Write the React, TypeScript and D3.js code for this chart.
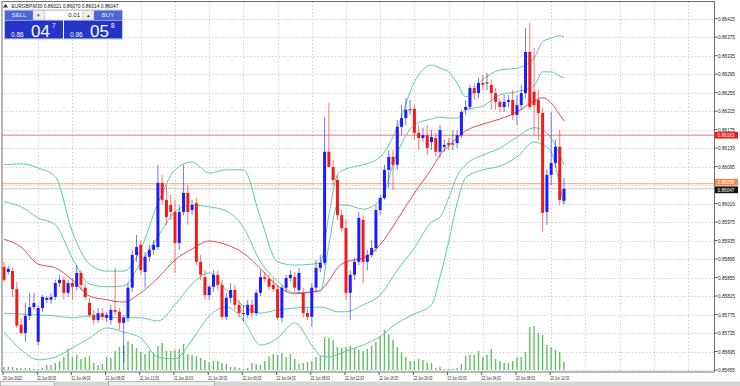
import React from 'react';
import * as d3 from 'd3';

// EURGBP M30, 20 Jun 2022 20:00 .. 23 Jun 2022 13:30 (132 bars)
const opens = [
  0.85878,0.85867,0.85869,0.85830,0.85753,0.85735,0.85772,0.85791,0.85716,0.85789,
  0.85807,0.85807,0.85813,0.85843,0.85850,0.85822,0.85843,0.85835,0.85865,0.85833,
  0.85800,0.85774,0.85763,0.85778,0.85768,0.85763,0.85785,0.85781,0.85757,0.85768,
  0.85833,0.85904,0.85926,0.85867,0.85900,0.85915,0.85921,0.86060,0.86023,0.86012,
  0.85997,0.85930,0.85997,0.86038,0.86001,0.86016,0.85889,0.85856,0.85817,0.85835,
  0.85861,0.85839,0.85770,0.85811,0.85828,0.85796,0.85777,0.85774,0.85796,0.85778,
  0.85822,0.85856,0.85852,0.85839,0.85830,0.85768,0.85833,0.85854,0.85856,0.85828,
  0.85822,0.85778,0.85770,0.85833,0.85876,0.85887,0.86127,0.86094,0.86066,0.85990,
  0.85962,0.85822,0.85861,0.85889,0.85980,0.85889,0.85904,0.85919,0.86001,0.86027,
  0.86088,0.86116,0.86099,0.86181,0.86200,0.86218,0.86220,0.86168,0.86157,0.86163,
  0.86148,0.86157,0.86127,0.86138,0.86146,0.86144,0.86146,0.86163,0.86218,0.86224,
  0.86265,0.86254,0.86276,0.86276,0.86272,0.86254,0.86235,0.86224,0.86235,0.86239,
  0.86207,0.86228,0.86254,0.86343,0.86257,0.86239,0.86211,0.85997,0.86077,0.86103,
  0.86138,0.86021,
];
const highs = [
  0.85889,0.85880,0.85876,0.85846,0.85768,0.85800,0.85822,0.85822,0.85796,0.85817,
  0.85815,0.85822,0.85850,0.85861,0.85856,0.85850,0.85854,0.85882,0.85871,0.85843,
  0.85811,0.85785,0.85789,0.85789,0.85781,0.85796,0.85876,0.85789,0.85774,0.85843,
  0.85915,0.85947,0.85936,0.85910,0.85926,0.85936,0.86099,0.86077,0.86055,0.86034,
  0.86023,0.86012,0.86099,0.86055,0.86023,0.86027,0.85904,0.85871,0.85839,0.85871,
  0.85871,0.85850,0.85822,0.85843,0.85839,0.85807,0.85796,0.85807,0.85807,0.85828,
  0.85871,0.85867,0.85861,0.85854,0.85839,0.85839,0.85861,0.85871,0.85867,0.85876,
  0.85833,0.85789,0.85843,0.85893,0.85904,0.86202,0.86233,0.86109,0.86077,0.86001,
  0.85980,0.85871,0.85898,0.85997,0.85990,0.85915,0.85936,0.86012,0.86034,0.86099,
  0.86131,0.86131,0.86196,0.86228,0.86243,0.86239,0.86228,0.86185,0.86179,0.86185,
  0.86174,0.86168,0.86185,0.86153,0.86157,0.86174,0.86174,0.86218,0.86239,0.86272,
  0.86276,0.86287,0.86293,0.86298,0.86283,0.86265,0.86243,0.86250,0.86250,0.86261,
  0.86250,0.86272,0.86395,0.86406,0.86352,0.86261,0.86222,0.86088,0.86213,0.86153,
  0.86174,0.86070,
];
const lows = [
  0.85846,0.85861,0.85813,0.85746,0.85731,0.85716,0.85763,0.85785,0.85709,0.85781,
  0.85800,0.85798,0.85807,0.85835,0.85807,0.85813,0.85807,0.85828,0.85828,0.85807,
  0.85768,0.85753,0.85757,0.85763,0.85759,0.85753,0.85774,0.85742,0.85672,0.85759,
  0.85824,0.85889,0.85861,0.85833,0.85889,0.85904,0.85915,0.86012,0.85969,0.85980,
  0.85865,0.85915,0.85990,0.85969,0.85990,0.85882,0.85850,0.85807,0.85807,0.85824,
  0.85828,0.85763,0.85763,0.85800,0.85785,0.85768,0.85759,0.85768,0.85768,0.85772,
  0.85815,0.85846,0.85828,0.85824,0.85763,0.85759,0.85824,0.85846,0.85824,0.85822,
  0.85768,0.85763,0.85748,0.85824,0.85867,0.85882,0.86109,0.86055,0.85980,0.85954,
  0.85807,0.85763,0.85850,0.85882,0.85843,0.85871,0.85898,0.85910,0.85990,0.86023,
  0.86049,0.86045,0.86088,0.86163,0.86185,0.86207,0.86153,0.86131,0.86148,0.86120,
  0.86131,0.86116,0.86114,0.86127,0.86131,0.86131,0.86135,0.86157,0.86207,0.86218,
  0.86239,0.86243,0.86261,0.86261,0.86218,0.86218,0.86213,0.86213,0.86224,0.86196,
  0.86185,0.86218,0.86243,0.86218,0.86163,0.86153,0.85954,0.85969,0.86055,0.86092,
  0.86012,0.86014,
];
const closes = [
  0.85850,0.85874,0.85830,0.85751,0.85735,0.85772,0.85791,0.85800,0.85789,0.85813,
  0.85811,0.85813,0.85843,0.85850,0.85822,0.85843,0.85835,0.85865,0.85839,0.85813,
  0.85774,0.85763,0.85778,0.85770,0.85774,0.85785,0.85781,0.85757,0.85768,0.85833,
  0.85904,0.85921,0.85871,0.85900,0.85915,0.85926,0.86060,0.86023,0.85986,0.85997,
  0.85930,0.85997,0.86038,0.85997,0.86012,0.85889,0.85861,0.85817,0.85835,0.85861,
  0.85839,0.85770,0.85811,0.85828,0.85796,0.85778,0.85777,0.85796,0.85778,0.85822,
  0.85856,0.85852,0.85835,0.85830,0.85768,0.85833,0.85854,0.85861,0.85833,0.85865,
  0.85778,0.85770,0.85833,0.85876,0.85887,0.86127,0.86094,0.86066,0.85990,0.85962,
  0.85822,0.85861,0.85889,0.85984,0.85889,0.85904,0.85919,0.86001,0.86027,0.86088,
  0.86116,0.86099,0.86181,0.86200,0.86218,0.86218,0.86168,0.86157,0.86163,0.86135,
  0.86159,0.86127,0.86174,0.86142,0.86142,0.86144,0.86163,0.86213,0.86224,0.86265,
  0.86254,0.86276,0.86272,0.86276,0.86254,0.86235,0.86224,0.86235,0.86239,0.86207,
  0.86228,0.86254,0.86343,0.86224,0.86228,0.86211,0.85995,0.86077,0.86103,0.86138,
  0.86023,0.86047,
];
const volumes = [
  120,120,120,80,80,80,80,40,40,80,
  200,200,280,360,520,840,520,600,440,520,
  560,280,200,240,520,480,760,920,1000,1160,
  1040,880,720,640,760,680,960,1080,760,760,
  800,840,1040,640,600,560,480,400,320,360,
  360,280,240,120,120,80,40,80,280,240,
  200,360,560,640,600,680,520,640,440,240,
  280,320,360,520,560,1320,1280,1200,920,880,
  920,960,880,800,760,840,960,1120,1360,1600,
  1440,1200,920,720,520,360,360,440,400,280,
  280,80,120,40,40,40,80,240,560,600,
  600,760,520,600,840,440,360,280,280,360,
  520,520,720,1720,1760,1480,1400,1000,920,800,
  720,320,
];

// indicator lines, read at these bar indices
const bandIdx = [0,4,8,12,16,20,24,28,32,36,40,44,48,52,56,60,64,68,72,74,76,78,80,84,88,92,96,100,102,104,106,108,112,116,120,124,126,128,130,131];
const bandUpperOuter = [0.86099,0.86101,0.86092,0.86073,0.85954,0.85884,0.85869,0.85869,0.85917,0.86016,0.86088,0.86105,0.86081,0.86088,0.86088,0.85984,0.85889,0.85882,0.85884,0.85887,0.85990,0.86077,0.86090,0.86099,0.86116,0.86179,0.86278,0.86315,0.86308,0.86300,0.86276,0.86246,0.86283,0.86304,0.86308,0.86330,0.86365,0.86373,0.86378,0.86375];
const bandUpperInner = [0.86019,0.86008,0.85984,0.85969,0.85897,0.85841,0.85835,0.85837,0.85887,0.85943,0.85997,0.86012,0.86008,0.85999,0.85964,0.85889,0.85848,0.85822,0.85824,0.85824,0.85926,0.86012,0.86012,0.86003,0.86023,0.86125,0.86185,0.86198,0.86202,0.86200,0.86200,0.86218,0.86226,0.86250,0.86257,0.86270,0.86300,0.86300,0.86291,0.86287];
const bandMiddle = [0.85938,0.85921,0.85884,0.85876,0.85850,0.85815,0.85807,0.85802,0.85822,0.85854,0.85893,0.85917,0.85934,0.85926,0.85908,0.85874,0.85837,0.85820,0.85824,0.85828,0.85848,0.85876,0.85889,0.85897,0.85926,0.85980,0.86038,0.86090,0.86120,0.86140,0.86157,0.86172,0.86187,0.86198,0.86213,0.86237,0.86244,0.86233,0.86207,0.86194];
const bandLowerInner = [0.85778,0.85776,0.85774,0.85772,0.85768,0.85772,0.85770,0.85768,0.85768,0.85761,0.85796,0.85841,0.85865,0.85828,0.85794,0.85778,0.85785,0.85789,0.85791,0.85791,0.85787,0.85781,0.85781,0.85796,0.85817,0.85871,0.85919,0.85975,0.85986,0.86027,0.86075,0.86099,0.86120,0.86135,0.86159,0.86179,0.86174,0.86157,0.86120,0.86099];
const bandLowerOuter = [0.85737,0.85699,0.85677,0.85683,0.85703,0.85724,0.85746,0.85737,0.85724,0.85683,0.85679,0.85720,0.85772,0.85791,0.85763,0.85709,0.85724,0.85757,0.85709,0.85686,0.85683,0.85688,0.85696,0.85709,0.85727,0.85757,0.85776,0.85796,0.85856,0.85932,0.86016,0.86071,0.86088,0.86096,0.86116,0.86148,0.86142,0.86127,0.86055,0.86012];

const priceTicks = [0.86415,0.86375,0.86335,0.86295,0.86255,0.86215,0.86175,0.86135,0.86095,0.86055,0.86015,0.85975,0.85935,0.85895,0.85855,0.85815,0.85775,0.85735,0.85695,0.85655];
const hiddenPriceTick = 0.86055;
const timeIdx = [0,8,16,24,32,40,48,56,64,72,80,88,96,104,112,120,128];
const timeLabels = ['20 Jun 2022','21 Jun 00:03','21 Jun 04:03','21 Jun 08:03','21 Jun 12:03','21 Jun 16:03','21 Jun 20:03','22 Jun 00:03','22 Jun 04:03','22 Jun 08:03','22 Jun 12:03','22 Jun 16:03','22 Jun 20:03','23 Jun 00:03','23 Jun 04:03','23 Jun 08:03','23 Jun 12:03'];

const levelRed = 0.86163;
const levelOrange = 0.86058;
const bid = 0.86047;

const W = 740, H = 386;
const left = 2, right = 714.5, top = 1.5, bottom = 372;
const FONT = 'Liberation Sans, Arial, sans-serif';
const BULL = '#1c1cff', BEAR = '#f01c1c', TEAL = '#5ccbad';

export default function App() {
  const n = closes.length;
  const x = d3.scaleLinear().domain([0, n - 1]).range([4, 564]);
  const y = d3.scaleLinear().domain([0.85655, 0.86415]).range([370, 18.7]);
  const vy = d3.scaleLinear().domain([0, 2000]).range([370, 320]);
  const step = x(1) - x(0);

  const bandLine = (vals: number[]) =>
    d3.line<number>()
      .x((_, k) => x(bandIdx[k]))
      .y(v => y(v))
      .curve(d3.curveMonotoneX)(vals) || '';

  // grid columns keep going past the last bar
  const gridIdx = d3.range(8, 170, 8).filter(i => x(i) < right - 2);

  return (
    <svg width={W} height={H} style={{ position: 'absolute', left: 0, top: 0, background: '#fff' }} fontFamily={FONT}>
      <rect x={0} y={0} width={W} height={H} fill="#fff" />

      {/* grid */}
      <g stroke="#c8c8c8" strokeWidth={0.8} strokeDasharray="1.5,2">
        {priceTicks.map(p => (
          <line key={p} x1={left} x2={right} y1={Math.round(y(p)) + 0.5} y2={Math.round(y(p)) + 0.5} />
        ))}
        {gridIdx.map(i => (
          <line key={i} x1={Math.round(x(i)) + 0.5} x2={Math.round(x(i)) + 0.5} y1={top} y2={bottom} />
        ))}
      </g>

      {/* volumes */}
      <g stroke="#62bf62" strokeWidth={1.4}>
        {volumes.map((v, i) => (
          <line key={i} x1={x(i)} x2={x(i)} y1={vy(0)} y2={vy(v)} />
        ))}
      </g>

      {/* levels */}
      <line x1={left} x2={right} y1={y(levelRed)} y2={y(levelRed)} stroke="#ec7a72" strokeWidth={1} />
      <line x1={left} x2={right} y1={y(levelOrange)} y2={y(levelOrange)} stroke="#f2a778" strokeWidth={1} />
      <line x1={left} x2={right} y1={y(bid)} y2={y(bid)} stroke="#c9c9c9" strokeWidth={1} />

      {/* bands */}
      <g fill="none" strokeWidth={1}>
        <path d={bandLine(bandUpperOuter)} stroke={TEAL} />
        <path d={bandLine(bandUpperInner)} stroke={TEAL} />
        <path d={bandLine(bandLowerInner)} stroke={TEAL} />
        <path d={bandLine(bandLowerOuter)} stroke={TEAL} />
        <path d={bandLine(bandMiddle)} stroke="#e84a4a" />
      </g>

      {/* candles */}
      <g>
        {closes.map((c, i) => {
          const o = opens[i];
          const col = c > o ? BULL : c < o ? BEAR : '#333';
          const cx = x(i);
          const y0 = y(Math.max(o, c)), y1 = y(Math.min(o, c));
          return (
            <g key={i}>
              <line x1={cx} x2={cx} y1={y(highs[i])} y2={y(lows[i])} stroke={col} strokeWidth={1} strokeOpacity={0.6} />
              {c === o
                ? <line x1={cx - 1.6} x2={cx + 1.6} y1={y0} y2={y0} stroke={col} strokeWidth={1} />
                : <rect x={cx - 1.5} y={y0} width={3} height={Math.max(1, y1 - y0)} fill={col} />}
            </g>
          );
        })}
      </g>

      {/* frame */}
      <g stroke="#6e6e6e" strokeWidth={1} fill="none">
        <line x1={left} x2={left} y1={top} y2={bottom} />
        <line x1={left} x2={right} y1={top} y2={top} />
        <line x1={right} x2={right} y1={top} y2={bottom} />
        <line x1={left} x2={right} y1={bottom} y2={bottom} />
      </g>

      {/* price axis */}
      <g fontSize={6} fill="#222">
        {priceTicks.filter(p => p !== hiddenPriceTick).map(p => (
          <g key={p}>
            <line x1={right} x2={right + 3} y1={y(p)} y2={y(p)} stroke="#555" />
            <text x={right + 3.5} y={y(p) + 2} textLength={17} lengthAdjust="spacingAndGlyphs">{p.toFixed(5)}</text>
          </g>
        ))}
      </g>
      {[
        { v: levelRed, bg: '#f21c1c', fg: '#fff', yy: y(levelRed) },
        { v: levelOrange, bg: '#f08a50', fg: '#fff', yy: y(levelOrange) - 1.5 },
        { v: bid, bg: '#111', fg: '#fff', yy: y(bid) + 1 },
      ].map(b => (
        <g key={b.v}>
          <rect x={right + 0.5} y={b.yy - 3.4} width={23} height={6.8} fill={b.bg} />
          <text x={right + 3} y={b.yy + 2} fontSize={6} fill={b.fg} textLength={17} lengthAdjust="spacingAndGlyphs">{b.v.toFixed(5)}</text>
        </g>
      ))}

      {/* time axis */}
      <g fontSize={5.6} fill="#222">
        {timeIdx.map((i, k) => (
          <g key={i}>
            <line x1={x(i) - 1} x2={x(i) - 1} y1={bottom} y2={bottom + 3} stroke="#555" />
            <text x={x(i) - 1} y={379.5} textLength={19} lengthAdjust="spacingAndGlyphs">{timeLabels[k]}</text>
          </g>
        ))}
      </g>

      {/* bottom tab strip */}
      <rect x={0} y={381.5} width={W} height={4.5} fill="#d6d6d6" />
      <rect x={0.5} y={381.5} width={54} height={4.5} fill="#f4f4f4" stroke="#9a9a9a" strokeWidth={0.6} />
      <rect x={108.5} y={381.5} width={106} height={4.5} fill="#eeeeee" stroke="#9a9a9a" strokeWidth={0.6} />

      {/* header */}
      <path d="M3,7.5 L5.5,3.8 L8,7.5 Z" fill="#333" />
      <text x={11.5} y={7.6} fontSize={5.6} fill="#111" textLength={107} lengthAdjust="spacingAndGlyphs">EURGBP,M30  0.86021 0.86070 0.86014 0.86047</text>

      {/* one-click trading panel */}
      <g>
        <rect x={4.5} y={10} width={118} height={29} fill="#fff" stroke="#9aa3c8" strokeWidth={0.6} />
        <rect x={5} y={10.5} width={28} height={9.5} fill="#4d65d6" />
        <text x={19} y={17.4} fontSize={6} fill="#e6ecff" textAnchor="middle">SELL</text>
        <rect x={33} y={10.5} width={11.5} height={9.5} fill="#ededed" stroke="#b4b4b4" strokeWidth={0.5} />
        <text x={38.7} y={17} fontSize={5} fill="#333" textAnchor="middle">▾</text>
        <rect x={44.5} y={10.5} width={38.5} height={9.5} fill="#fff" stroke="#b4b4b4" strokeWidth={0.5} />
        <text x={80} y={17.4} fontSize={6} fill="#222" textAnchor="end">0.01</text>
        <rect x={83} y={10.5} width={11} height={9.5} fill="#ededed" stroke="#b4b4b4" strokeWidth={0.5} />
        <text x={88.5} y={17} fontSize={5} fill="#333" textAnchor="middle">▴</text>
        <rect x={94} y={10.5} width={28} height={9.5} fill="#4d65d6" />
        <text x={108} y={17.4} fontSize={6} fill="#e6ecff" textAnchor="middle">BUY</text>

        <rect x={5} y={20.5} width={58} height={18} fill="#2334c6" />
        <rect x={64} y={20.5} width={58} height={18} fill="#2334c6" />
        <text x={11} y={36.5} fontSize={6.5} fill="#fff">0.86</text>
        <text x={31} y={37.2} fontSize={17} fill="#fff">04</text>
        <text x={52} y={28} fontSize={6.5} fill="#fff">7</text>
        <text x={70} y={36.5} fontSize={6.5} fill="#fff">0.86</text>
        <text x={90} y={37.2} fontSize={17} fill="#fff">05</text>
        <text x={111} y={28} fontSize={6.5} fill="#fff">8</text>
      </g>
    </svg>
  );
}
